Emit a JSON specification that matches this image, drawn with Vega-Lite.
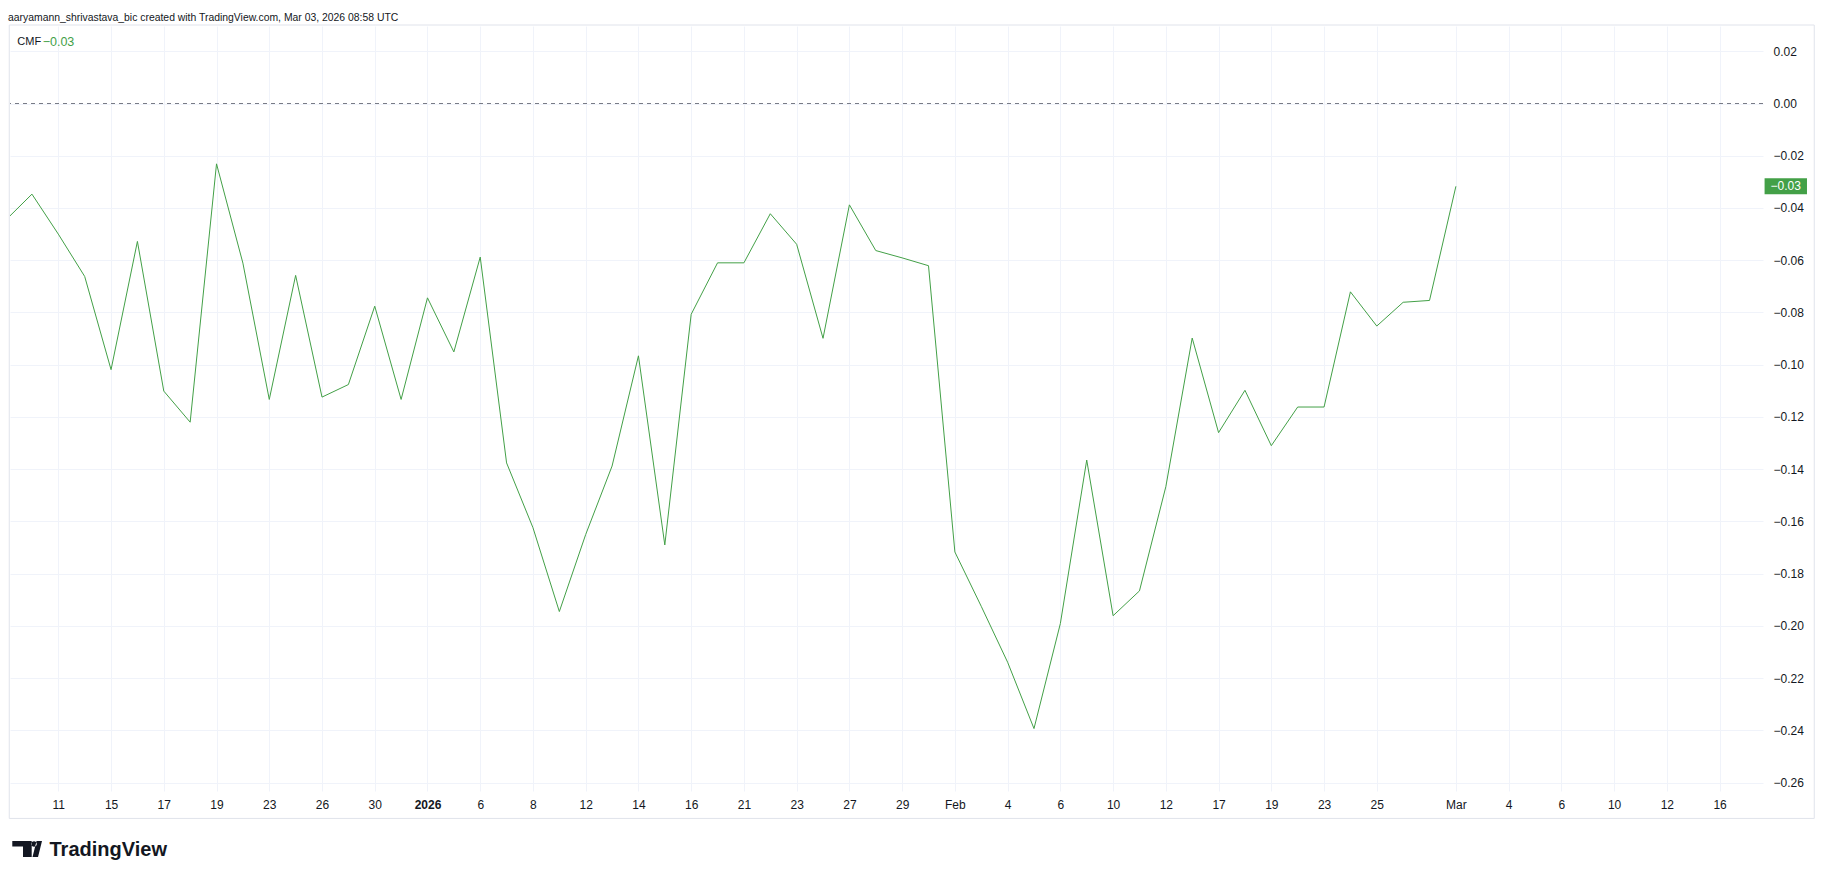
{
  "$schema": "https://vega.github.io/schema/vega-lite/v6.json",
  "width": 1753,
  "height": 765,
  "autosize": {"type": "none"},
  "padding": {"left": 10, "top": 26, "right": 62, "bottom": 88},
  "background": "#ffffff",
  "config": {"view": {"stroke": null}, "font": "Liberation Sans"},
  "title": {
    "text": "aaryamann_shrivastava_bic created with TradingView.com, Mar 03, 2026 08:58 UTC",
    "anchor": "start",
    "frame": "group",
    "orient": "top",
    "offset": 6,
    "baseline": "alphabetic",
    "dx": -2,
    "dy": 13,
    "fontSize": 10.4,
    "fontWeight": "normal",
    "color": "#131722",
    "font": "Liberation Sans"
  },
  "datasets": {
    "cmf": [
      {"bar": -2, "date": "2025-12-09", "cmf": -0.0447},
      {"bar": -1, "date": "2025-12-10", "cmf": -0.0347},
      {"bar": 0, "date": "2025-12-11", "cmf": -0.0500},
      {"bar": 1, "date": "2025-12-12", "cmf": -0.0662},
      {"bar": 2, "date": "2025-12-15", "cmf": -0.1019},
      {"bar": 3, "date": "2025-12-16", "cmf": -0.0528},
      {"bar": 4, "date": "2025-12-17", "cmf": -0.1101},
      {"bar": 5, "date": "2025-12-18", "cmf": -0.1220},
      {"bar": 6, "date": "2025-12-19", "cmf": -0.0231},
      {"bar": 7, "date": "2025-12-22", "cmf": -0.0611},
      {"bar": 8, "date": "2025-12-23", "cmf": -0.1133},
      {"bar": 9, "date": "2025-12-24", "cmf": -0.0658},
      {"bar": 10, "date": "2025-12-26", "cmf": -0.1124},
      {"bar": 11, "date": "2025-12-29", "cmf": -0.1076},
      {"bar": 12, "date": "2025-12-30", "cmf": -0.0776},
      {"bar": 13, "date": "2025-12-31", "cmf": -0.1133},
      {"bar": 14, "date": "2026-01-02", "cmf": -0.0744},
      {"bar": 15, "date": "2026-01-05", "cmf": -0.0951},
      {"bar": 16, "date": "2026-01-06", "cmf": -0.0588},
      {"bar": 17, "date": "2026-01-07", "cmf": -0.1376},
      {"bar": 18, "date": "2026-01-08", "cmf": -0.1624},
      {"bar": 19, "date": "2026-01-09", "cmf": -0.1945},
      {"bar": 20, "date": "2026-01-12", "cmf": -0.1650},
      {"bar": 21, "date": "2026-01-13", "cmf": -0.1388},
      {"bar": 22, "date": "2026-01-14", "cmf": -0.0966},
      {"bar": 23, "date": "2026-01-15", "cmf": -0.1690},
      {"bar": 24, "date": "2026-01-16", "cmf": -0.0807},
      {"bar": 25, "date": "2026-01-20", "cmf": -0.0610},
      {"bar": 26, "date": "2026-01-21", "cmf": -0.0610},
      {"bar": 27, "date": "2026-01-22", "cmf": -0.0422},
      {"bar": 28, "date": "2026-01-23", "cmf": -0.0539},
      {"bar": 29, "date": "2026-01-26", "cmf": -0.0899},
      {"bar": 30, "date": "2026-01-27", "cmf": -0.0388},
      {"bar": 31, "date": "2026-01-28", "cmf": -0.0563},
      {"bar": 32, "date": "2026-01-29", "cmf": -0.0591},
      {"bar": 33, "date": "2026-01-30", "cmf": -0.0621},
      {"bar": 34, "date": "2026-02-02", "cmf": -0.1717},
      {"bar": 35, "date": "2026-02-03", "cmf": -0.1925},
      {"bar": 36, "date": "2026-02-04", "cmf": -0.2139},
      {"bar": 37, "date": "2026-02-05", "cmf": -0.2393},
      {"bar": 38, "date": "2026-02-06", "cmf": -0.1991},
      {"bar": 39, "date": "2026-02-09", "cmf": -0.1365},
      {"bar": 40, "date": "2026-02-10", "cmf": -0.1961},
      {"bar": 41, "date": "2026-02-11", "cmf": -0.1866},
      {"bar": 42, "date": "2026-02-12", "cmf": -0.1467},
      {"bar": 43, "date": "2026-02-13", "cmf": -0.0898},
      {"bar": 44, "date": "2026-02-17", "cmf": -0.1260},
      {"bar": 45, "date": "2026-02-18", "cmf": -0.1098},
      {"bar": 46, "date": "2026-02-19", "cmf": -0.1310},
      {"bar": 47, "date": "2026-02-20", "cmf": -0.1162},
      {"bar": 48, "date": "2026-02-23", "cmf": -0.1162},
      {"bar": 49, "date": "2026-02-24", "cmf": -0.0721},
      {"bar": 50, "date": "2026-02-25", "cmf": -0.0852},
      {"bar": 51, "date": "2026-02-26", "cmf": -0.0761},
      {"bar": 52, "date": "2026-02-27", "cmf": -0.0754},
      {"bar": 53, "date": "2026-03-02", "cmf": -0.0317}
    ]
  },
  "data": {"name": "cmf"},
  "layer": [
    {
      "data": {"values": [{"pane": "CMF"}]},
      "mark": {"type": "rect", "fill": "transparent", "stroke": "#e0e3eb", "strokeWidth": 1, "clip": false},
      "encoding": {
        "x": {"datum": -1.86, "type": "quantitative", "scale": {"domain": [-1.832, 64.646], "nice": false, "zero": false}},
        "x2": {"datum": 66.59},
        "y": {"datum": 0.03005, "type": "quantitative", "scale": {"domain": [-0.2632, 0.02967], "nice": false, "zero": false}},
        "y2": {"datum": -0.2737}
      }
    },
    {
      "mark": {
        "type": "line",
        "color": "#43a047",
        "strokeWidth": 1,
        "clip": true,
        "interpolate": "linear"
      },
      "encoding": {
        "x": {
          "field": "bar",
          "type": "quantitative",
          "scale": {"domain": [-1.832, 64.646], "nice": false, "zero": false},
          "axis": {
            "values": [0, 2, 4, 6, 8, 10, 12, 14, 16, 18, 20, 22, 24, 26, 28, 30, 32, 34, 36, 38, 40, 42, 44, 46, 48, 50, 53, 55, 57, 59, 61, 63],
            "labelExpr": "['11','','15','','17','','19','','23','','26','','30','','2026','','6','','8','','12','','14','','16','','21','','23','','27','','29','','Feb','','4','','6','','10','','12','','17','','19','','23','','25','','','Mar','','4','','6','','10','','12','','16'][datum.value]",
            "grid": true,
            "gridColor": "#f0f3fa",
            "gridWidth": 1,
            "ticks": false,
            "tickSize": 0,
            "domain": false,
            "labelPadding": 13,
            "labelBaseline": "middle",
            "labelFontSize": 12,
            "labelColor": "#131722",
            "labelFont": "Liberation Sans",
            "labelFontWeight": {"condition": {"test": "datum.value == 14", "value": "bold"}, "value": "normal"},
            "labelFlush": false,
            "labelOverlap": false,
            "labelBound": false,
            "title": "TradingView",
            "titleX": 39,
            "titleY": 64,
            "titleAngle": 0,
            "titleAlign": "left",
            "titleBaseline": "alphabetic",
            "titleFont": "Liberation Sans",
            "titleFontSize": 20,
            "titleFontWeight": "bold",
            "titleColor": "#131722"
          }
        },
        "y": {
          "field": "cmf",
          "type": "quantitative",
          "scale": {"domain": [-0.2632, 0.02967], "nice": false, "zero": false},
          "axis": {
            "orient": "right",
            "values": [0.02, 0, -0.02, -0.04, -0.06, -0.08, -0.1, -0.12, -0.14, -0.16, -0.18, -0.2, -0.22, -0.24, -0.26],
            "format": ".2f",
            "grid": true,
            "gridColor": "#f0f3fa",
            "gridWidth": 1,
            "ticks": false,
            "tickSize": 0,
            "domain": false,
            "labelPadding": 10,
            "labelAlign": "left",
            "labelBaseline": "middle",
            "labelFontSize": 12,
            "labelColor": "#131722",
            "labelFont": "Liberation Sans",
            "labelFlush": false,
            "labelOverlap": false,
            "labelBound": false,
            "title": null
          }
        }
      }
    },
    {
      "data": {"values": [{"level": 0}]},
      "mark": {"type": "rule", "color": "#787b86", "strokeWidth": 1, "strokeDash": [4, 4]},
      "encoding": {
        "y": {"datum": 0, "type": "quantitative", "scale": {"domain": [-0.2632, 0.02967], "nice": false, "zero": false}}
      }
    },
    {
      "transform": [{"filter": "datum.bar == 53"}],
      "mark": {"type": "point", "shape": "M-1,-0.377H1V0.377H-1Z", "size": 1798, "filled": true, "fill": "#43a047", "strokeWidth": 0, "opacity": 1, "clip": false},
      "encoding": {
        "x": {"datum": 65.51, "type": "quantitative", "scale": {"domain": [-1.832, 64.646], "nice": false, "zero": false}},
        "y": {"field": "cmf", "type": "quantitative", "scale": {"domain": [-0.2632, 0.02967], "nice": false, "zero": false}}
      }
    },
    {
      "transform": [{"filter": "datum.bar == 53"}],
      "mark": {"type": "text", "color": "#ffffff", "fontSize": 12, "align": "center", "baseline": "middle", "font": "Liberation Sans", "clip": false},
      "encoding": {
        "x": {"datum": 65.51, "type": "quantitative", "scale": {"domain": [-1.832, 64.646], "nice": false, "zero": false}},
        "y": {"field": "cmf", "type": "quantitative", "scale": {"domain": [-0.2632, 0.02967], "nice": false, "zero": false}},
        "text": {"field": "cmf", "type": "quantitative", "format": ".2f"}
      }
    },
    {
      "data": {"values": [{"name": "CMF"}]},
      "mark": {"type": "text", "color": "#131722", "fontSize": 11, "align": "left", "baseline": "middle", "font": "Liberation Sans"},
      "encoding": {
        "x": {"datum": -1.555, "type": "quantitative", "scale": {"domain": [-1.832, 64.646], "nice": false, "zero": false}},
        "y": {"datum": 0.02343, "type": "quantitative", "scale": {"domain": [-0.2632, 0.02967], "nice": false, "zero": false}},
        "text": {"field": "name", "type": "nominal"}
      }
    },
    {
      "transform": [{"filter": "datum.bar == 53"}],
      "mark": {"type": "text", "color": "#43a047", "fontSize": 12.5, "align": "left", "baseline": "middle", "font": "Liberation Sans"},
      "encoding": {
        "x": {"datum": -0.592, "type": "quantitative", "scale": {"domain": [-1.832, 64.646], "nice": false, "zero": false}},
        "y": {"datum": 0.02343, "type": "quantitative", "scale": {"domain": [-0.2632, 0.02967], "nice": false, "zero": false}},
        "text": {"field": "cmf", "type": "quantitative", "format": ".2f"}
      }
    },
    {
      "data": {"values": [{"brand": "logo"}]},
      "mark": {
        "type": "point",
        "shape": "M-0.92,-0.5H0.293V0.5H-0.25V-0.156H-0.92Z M0.594,-0.5L0.9375,-0.5L0.688,0.5L0.344,0.5Z M0.2625,-0.3125a0.175,0.175 0 1,0 0.35,0a0.175,0.175 0 1,0 -0.35,0Z",
        "size": 1024,
        "filled": true,
        "fill": "#131722",
        "strokeWidth": 0,
        "opacity": 1,
        "clip": false
      },
      "encoding": {
        "x": {"datum": -1.187, "type": "quantitative", "scale": {"domain": [-1.832, 64.646], "nice": false, "zero": false}},
        "y": {"datum": -0.28541, "type": "quantitative", "scale": {"domain": [-0.2632, 0.02967], "nice": false, "zero": false}}
      }
    }
  ]
}
